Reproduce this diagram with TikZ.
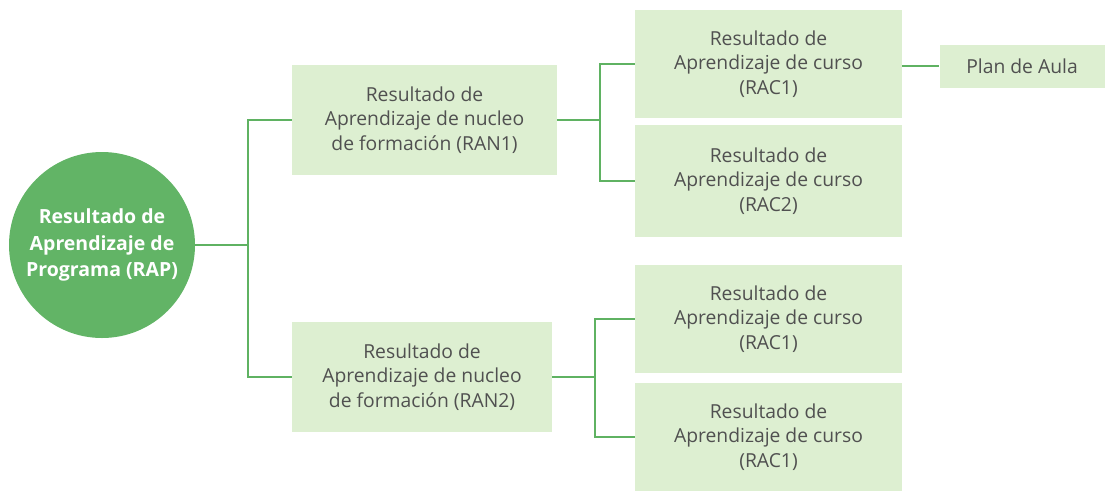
\documentclass[tikz,border=0pt]{standalone}
\usepackage{fontspec}
\setmainfont{Open Sans}
\definecolor{boxgreen}{HTML}{DDEFD1}
\definecolor{circgreen}{HTML}{62B466}
\definecolor{linegreen}{HTML}{5FB262}
\definecolor{txtgray}{HTML}{505050}
\begin{document}
\begin{tikzpicture}[x=1pt,y=-1pt,
  resbox/.style={fill=boxgreen, draw=none, inner sep=0pt, align=center, text=txtgray,
    font=\fontsize{19.3}{24.5}\selectfont},
  conn/.style={draw=linegreen, line width=1.3pt}]
\useasboundingbox (0,0) rectangle (1111,491);
\node[circle, fill=circgreen, minimum size=186pt, inner sep=0pt, align=center, text=white,
  font=\fontsize{19.5}{26.5}\selectfont\bfseries] (rap) at (102,245)
  {Resultado de\\Aprendizaje de\\Programa (RAP)};
\node[resbox, minimum width=265pt, minimum height=110pt] (ran1) at (424.5,120)
  {Resultado de\\Aprendizaje de nucleo\\de formación (RAN1)};
\node[resbox, minimum width=260pt, minimum height=110pt] (ran2) at (422,377)
  {Resultado de\\Aprendizaje de nucleo\\de formación (RAN2)};
\node[resbox, minimum width=267pt, minimum height=108pt] (rac1) at (768.5,64)
  {Resultado de\\Aprendizaje de curso\\(RAC1)};
\node[resbox, minimum width=267pt, minimum height=112pt] (rac2) at (768.5,181)
  {Resultado de\\Aprendizaje de curso\\(RAC2)};
\node[resbox, minimum width=267pt, minimum height=108pt] (rac3) at (768.5,319)
  {Resultado de\\Aprendizaje de curso\\(RAC1)};
\node[resbox, minimum width=267pt, minimum height=108pt] (rac4) at (768.5,437)
  {Resultado de\\Aprendizaje de curso\\(RAC1)};
\node[resbox, minimum width=165pt, minimum height=43pt] (plan) at (1022,66)
  {Plan de Aula};
\coordinate (j1) at (248,245);
\coordinate (j2) at (600,120);
\coordinate (j3) at (595,377);
\draw[conn] (rap.east) -- (j1);
\draw[conn] (ran1.west) -| (j1) |- (ran2.west);
\draw[conn] (ran1.east) -- (j2);
\draw[conn] (rac1.west) -| (j2) |- (rac2.west);
\draw[conn] (ran2.east) -- (j3);
\draw[conn] (rac3.west) -| (j3) |- (rac4.west);
\draw[conn] (rac1.east |- plan.west) -- (plan.west);
\end{tikzpicture}
\end{document}
